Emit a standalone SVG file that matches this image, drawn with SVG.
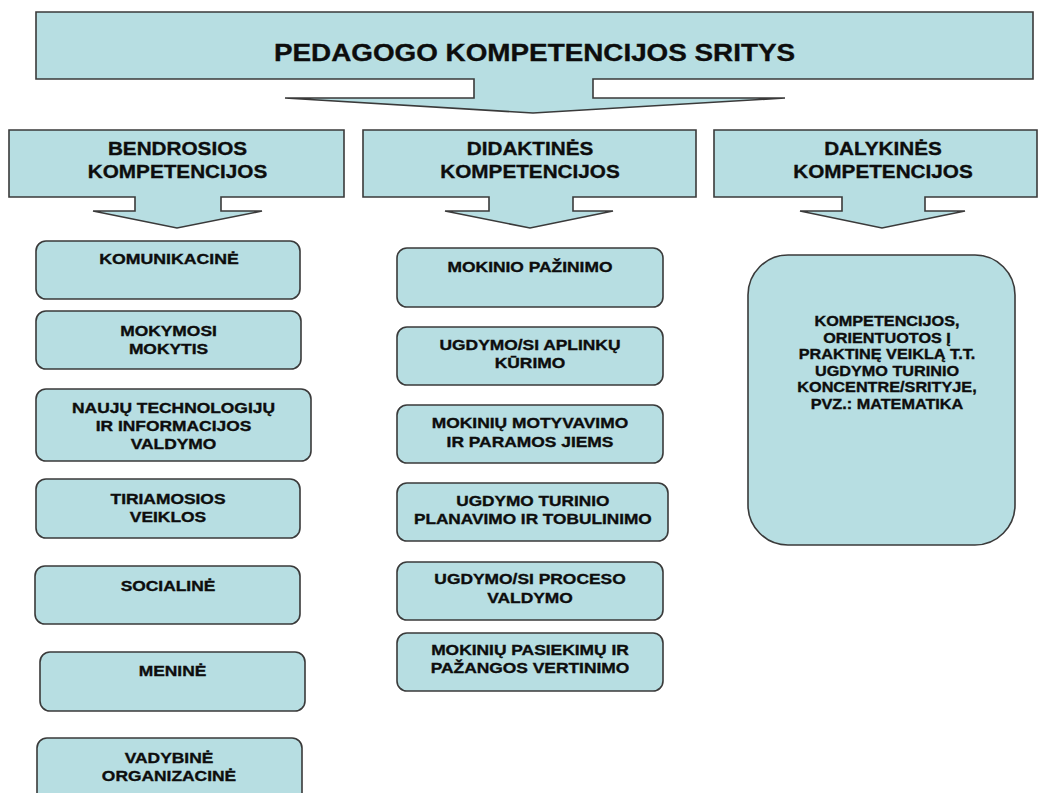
<svg xmlns="http://www.w3.org/2000/svg" width="1039" height="793" viewBox="0 0 1039 793">
<style>
.shape{fill:#b7dee2;stroke:#3a3a3a;stroke-width:1.6;stroke-linejoin:miter}
.box{fill:#b7dee2;stroke:#3a3a3a;stroke-width:1.6}
.t{font-family:"Liberation Sans",Arial,sans-serif;font-weight:bold;fill:#0d0d0d;stroke:#0d0d0d;stroke-width:0.35;text-anchor:middle}
.title{font-size:24px}
.hd{font-size:19px}
.bx{font-size:15px}
.big{font-size:14.5px}
</style>
<rect width="1039" height="793" fill="#ffffff"/>
<g id="node-top">
<path class="shape" d="M36,12 H1033 V79 H593 V98 H785 L533,113 L285,98 H474 V79 H36 Z"/>
<text class="t title" transform="translate(534.5,61) scale(1.16,1)" x="0" y="0">PEDAGOGO KOMPETENCIJOS SRITYS</text>
</g>
<g id="node-bendrosios">
<path class="shape" d="M9,130 H344 V197 H221 V211 H262 L177,228 L93,211 H135 V197 H9 Z"/>
<text class="t hd" transform="translate(177.5,155) scale(1.09,1)"><tspan x="0" y="0">BENDROSIOS</tspan><tspan x="0" y="23">KOMPETENCIJOS</tspan></text>
</g>
<g id="node-didaktines">
<path class="shape" d="M363,130 H696 V197 H573 V211 H613 L530,228 L445,211 H489 V197 H363 Z"/>
<text class="t hd" transform="translate(530,155) scale(1.09,1)"><tspan x="0" y="0">DIDAKTINĖS</tspan><tspan x="0" y="23">KOMPETENCIJOS</tspan></text>
</g>
<g id="node-dalykines">
<path class="shape" d="M714,130 H1037 V197 H925 V211 H965 L882,228 L800,211 H842 V197 H714 Z"/>
<text class="t hd" transform="translate(883,155) scale(1.09,1)"><tspan x="0" y="0">DALYKINĖS</tspan><tspan x="0" y="23">KOMPETENCIJOS</tspan></text>
</g>
<g id="connectors"></g>
<g id="node-komunikacine">
<rect class="box" x="36" y="241" width="264" height="58" rx="10"/>
<text class="t bx" transform="translate(169,264) scale(1.18,1)" x="0" y="0">KOMUNIKACINĖ</text>
</g>
<g id="node-mokymosi">
<rect class="box" x="36" y="311" width="265" height="58" rx="10"/>
<text class="t bx" transform="translate(168.5,336) scale(1.16,1)"><tspan x="0" y="0">MOKYMOSI</tspan><tspan x="0" y="18.3">MOKYTIS</tspan></text>
</g>
<g id="node-nauju">
<rect class="box" x="36" y="389" width="275" height="72" rx="10"/>
<text class="t bx" transform="translate(173.5,413) scale(1.16,1)"><tspan x="0" y="0">NAUJŲ TECHNOLOGIJŲ</tspan><tspan x="0" y="18">IR INFORMACIJOS</tspan><tspan x="0" y="36">VALDYMO</tspan></text>
</g>
<g id="node-tiriamosios">
<rect class="box" x="36" y="479" width="264" height="59" rx="10"/>
<text class="t bx" transform="translate(168,504) scale(1.16,1)"><tspan x="0" y="0">TIRIAMOSIOS</tspan><tspan x="0" y="18.3">VEIKLOS</tspan></text>
</g>
<g id="node-socialine">
<rect class="box" x="35" y="566" width="265" height="58" rx="10"/>
<text class="t bx" transform="translate(168,591) scale(1.16,1)" x="0" y="0">SOCIALINĖ</text>
</g>
<g id="node-menine">
<rect class="box" x="40" y="652" width="265" height="59" rx="10"/>
<text class="t bx" transform="translate(172.5,676) scale(1.16,1)" x="0" y="0">MENINĖ</text>
</g>
<g id="node-vadybine">
<rect class="box" x="37" y="738" width="265" height="72" rx="10"/>
<text class="t bx" transform="translate(169,763) scale(1.16,1)"><tspan x="0" y="0">VADYBINĖ</tspan><tspan x="0" y="18.3">ORGANIZACINĖ</tspan></text>
</g>
<g id="node-mokinio-pazinimo">
<rect class="box" x="397" y="248" width="266" height="59" rx="10"/>
<text class="t bx" transform="translate(530,272) scale(1.16,1)" x="0" y="0">MOKINIO PAŽINIMO</text>
</g>
<g id="node-aplinku">
<rect class="box" x="397" y="327" width="266" height="58" rx="10"/>
<text class="t bx" transform="translate(530,350) scale(1.16,1)"><tspan x="0" y="0">UGDYMO/SI APLINKŲ</tspan><tspan x="0" y="18.3">KŪRIMO</tspan></text>
</g>
<g id="node-motyvavimo">
<rect class="box" x="397" y="405" width="266" height="58" rx="10"/>
<text class="t bx" transform="translate(530,428.3) scale(1.16,1)"><tspan x="0" y="0">MOKINIŲ MOTYVAVIMO</tspan><tspan x="0" y="18.3">IR PARAMOS JIEMS</tspan></text>
</g>
<g id="node-turinio">
<rect class="box" x="397" y="483" width="271" height="58" rx="10"/>
<text class="t bx" transform="translate(532.8,506) scale(1.15,1)"><tspan x="0" y="0">UGDYMO TURINIO</tspan><tspan x="0" y="18.5">PLANAVIMO IR TOBULINIMO</tspan></text>
</g>
<g id="node-proceso">
<rect class="box" x="397" y="562" width="266" height="58" rx="10"/>
<text class="t bx" transform="translate(530,584.3) scale(1.16,1)"><tspan x="0" y="0">UGDYMO/SI PROCESO</tspan><tspan x="0" y="18.4">VALDYMO</tspan></text>
</g>
<g id="node-pasiekimu">
<rect class="box" x="397" y="633" width="266" height="58" rx="10"/>
<text class="t bx" transform="translate(530,655) scale(1.16,1)"><tspan x="0" y="0">MOKINIŲ PASIEKIMŲ IR</tspan><tspan x="0" y="18.3">PAŽANGOS VERTINIMO</tspan></text>
</g>
<g id="node-dalykines-box">
<rect class="box" x="748" y="255" width="267" height="290" rx="40"/>
<text class="t big" transform="translate(887,326) scale(1.12,1)"><tspan x="0" y="0">KOMPETENCIJOS,</tspan><tspan x="0" y="16.6">ORIENTUOTOS Į</tspan><tspan x="0" y="33.2">PRAKTINĘ VEIKLĄ T.T.</tspan><tspan x="0" y="49.8">UGDYMO TURINIO</tspan><tspan x="0" y="66.4">KONCENTRE/SRITYJE,</tspan><tspan x="0" y="83">PVZ.: MATEMATIKA</tspan></text>
</g>
</svg>
